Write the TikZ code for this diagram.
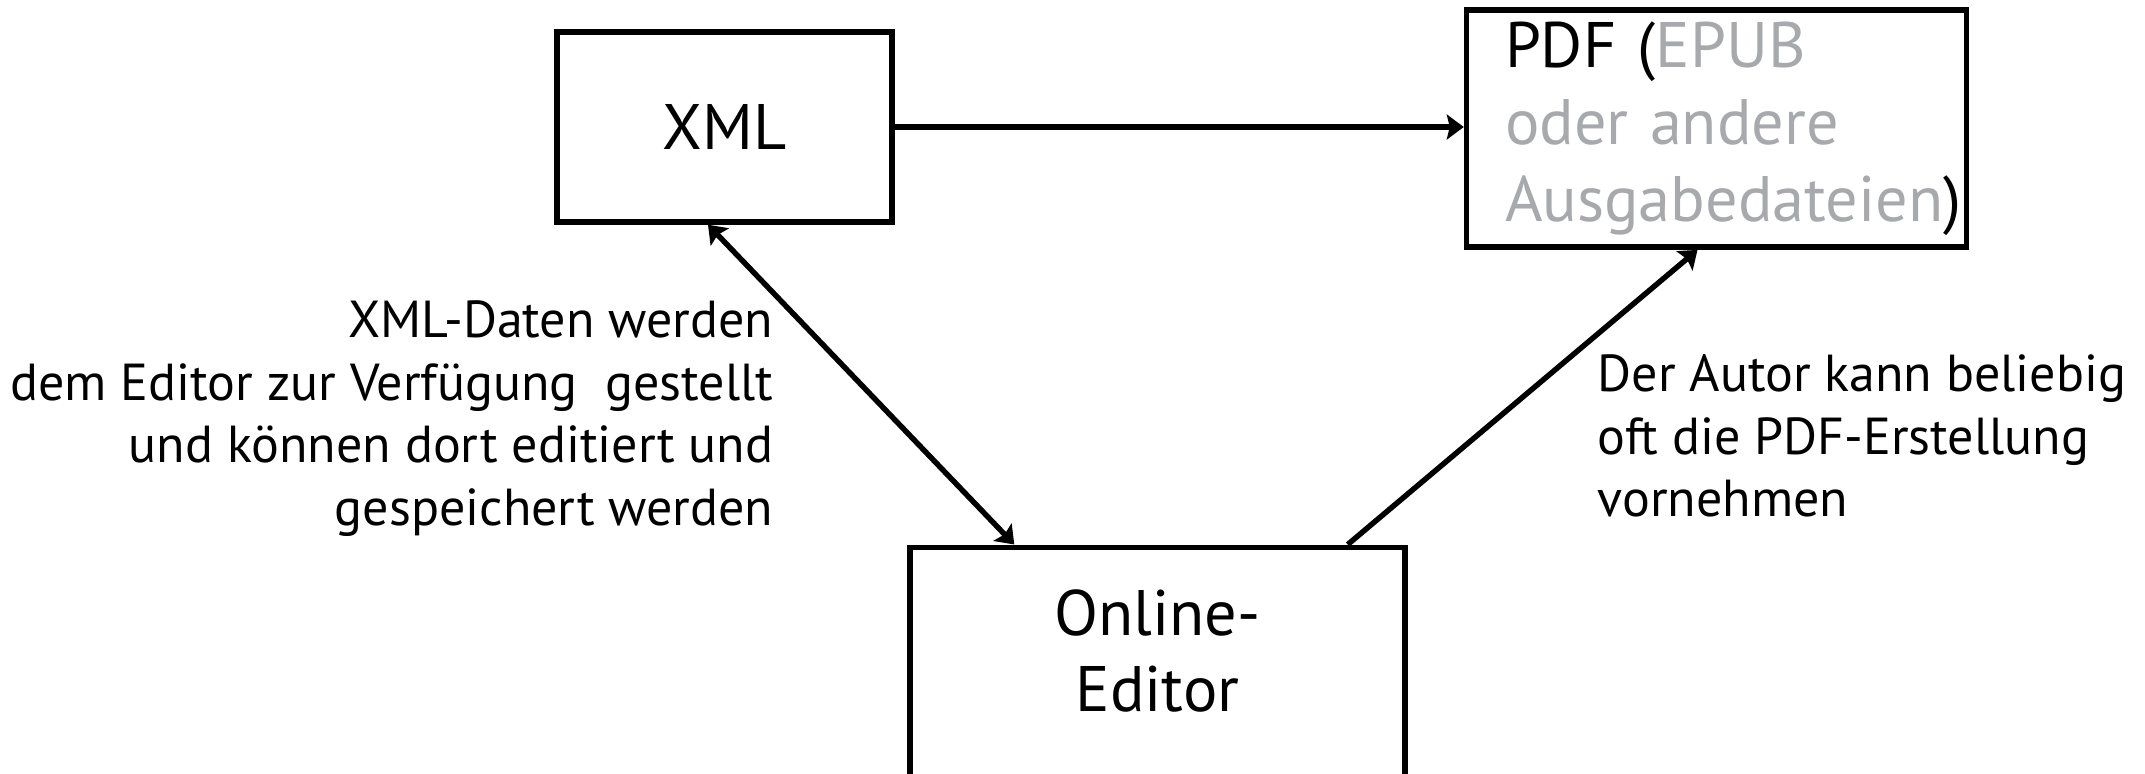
\documentclass[tikz,border=0pt]{standalone}
\usepackage{fontspec}
\setmainfont{PT Sans}
\usetikzlibrary{arrows.meta}
\definecolor{outgray}{RGB}{167,169,172}
\tikzset{
  box/.style={draw, line width=1.55pt, align=center,
              font=\fontsize{18.3}{21.9}\selectfont},
  note/.style={inner sep=0pt, font=\fontsize{14.8}{17.8}\selectfont},
  link/.style={-{Stealth[length=0.17cm, width=0.25cm, inset=0.03cm]},
               line width=1.55pt},
  twolink/.style={{Stealth[length=0.17cm, width=0.25cm, inset=0.03cm]}-{Stealth[length=0.17cm, width=0.25cm, inset=0.03cm]},
                  line width=1.55pt}
}

\begin{document}
\begin{tikzpicture}
  \path[use as bounding box, clip] (0,0) rectangle (21.45,7.73);

  % the three stations
  \node[box, minimum width=3.35cm, minimum height=1.90cm] (xml) at (7.245,6.46) {XML};
  \node[box, align=left, text width=4.23cm, minimum width=5.00cm, minimum height=2.29cm] (pdf) at (17.165,6.445)
    {PDF (\textcolor{outgray}{EPUB}\\\textcolor{outgray}{oder andere}\\\mbox{\textcolor{outgray}{Ausgabedateien})}};
  \node[box, anchor=north, minimum width=4.95cm, inner ysep=0.42cm, text depth=1.6cm] (editor)
    at (11.575,2.285) {Online-\\Editor};

  % explanations
  \node[note, anchor=north east, align=right] (xmlnote) at (7.74,4.73)
    {XML-Daten werden\\dem Editor zur Verfügung\ \ gestellt\\und können dort editiert und\hspace*{0.25em}\\gespeichert werden};
  \node[note, anchor=north west, align=left] (pdfnote) at (15.97,4.19)
    {Der Autor kann beliebig\\oft die PDF-Erstellung\\vornehmen};

  \draw[link] (xml.east) -- (xml.east -| pdf.west);
  \draw[twolink] ([xshift=-0.165cm]xml.south) -- ([xshift=1.07cm]editor.north west);
  \draw[link] ([xshift=-0.60cm]editor.north east) -- ([xshift=-0.19cm]pdf.south);
\end{tikzpicture}
\end{document}
